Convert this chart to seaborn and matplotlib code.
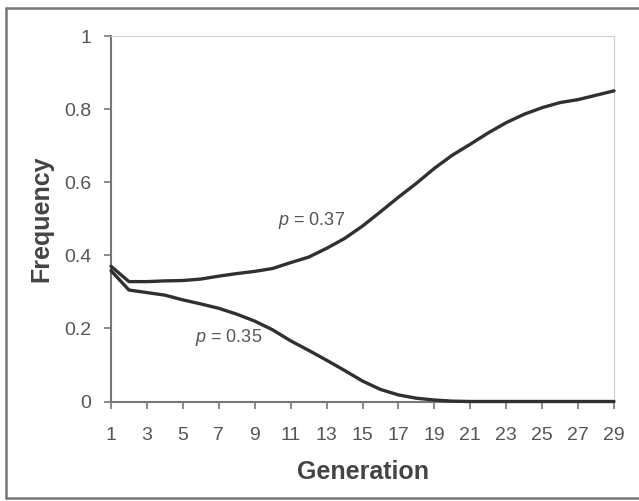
import matplotlib
matplotlib.use("Agg")
import matplotlib.pyplot as plt
import seaborn as sns
import pandas as pd
from matplotlib.lines import Line2D

# Set style
sns.set_style("white")
plt.rcParams['font.family'] = ['Liberation Sans', 'DejaVu Sans']
plt.rcParams['mathtext.fontset'] = 'custom'
plt.rcParams['mathtext.rm'] = 'Liberation Sans'
plt.rcParams['mathtext.it'] = 'Liberation Sans:italic'

# ============================================================
# DATA
# ============================================================
generations = list(range(1, 30))
freq_p037 = [0.370, 0.328, 0.328, 0.330, 0.331, 0.335, 0.343, 0.350, 0.356, 0.364,
             0.380, 0.395, 0.419, 0.446, 0.480, 0.519, 0.559, 0.597, 0.638, 0.674,
             0.704, 0.735, 0.763, 0.786, 0.804, 0.818, 0.826, 0.838, 0.850]
freq_p035 = [0.358, 0.305, 0.298, 0.291, 0.278, 0.267, 0.255, 0.239, 0.220, 0.196,
             0.166, 0.140, 0.113, 0.085, 0.056, 0.033, 0.018, 0.009, 0.004, 0.001,
             0.0, 0.0, 0.0, 0.0, 0.0, 0.0, 0.0, 0.0, 0.0]
labels = ['0.37', '0.35']
x_ticks = list(range(1, 30, 2))
y_ticks = [0, 0.2, 0.4, 0.6, 0.8, 1]
y_tick_labels = ['0', '0.2', '0.4', '0.6', '0.8', '1']

df = pd.DataFrame({
    'Generation': generations * 2,
    'Frequency': freq_p037 + freq_p035,
    'p': [labels[0]] * len(generations) + [labels[1]] * len(generations),
})

# ============================================================
# PLOT
# ============================================================
fig = plt.figure(figsize=(6.39, 5.01), dpi=100)
ax = fig.add_axes([0.1737, 0.1986, 0.7872, 0.7295])

sns.lineplot(data=df, x='Generation', y='Frequency', hue='p',
             palette=['#303030', '#303030'], linewidth=2.4, legend=False,
             ax=ax, clip_on=False, zorder=5)

ax.set_xlim(1, 29)
ax.set_ylim(0, 1)
ax.set_xticks(x_ticks)
ax.set_yticks(y_ticks)
ax.set_yticklabels(y_tick_labels)

ax.tick_params(axis='both', which='both', direction='out', length=5, width=1.2,
               color='#777777', labelcolor='#555555', labelsize=14,
               bottom=True, left=True)
ax.tick_params(axis='y', pad=9)
ax.tick_params(axis='x', pad=13)

for side in ['top', 'right']:
    ax.spines[side].set_color('#d0d0d0')
    ax.spines[side].set_linewidth(0.8)
for side in ['left', 'bottom']:
    ax.spines[side].set_color('#777777')
    ax.spines[side].set_linewidth(1.5)

ax.set_xlabel('Generation', fontsize=18, fontweight='bold', color='#444444')
ax.set_ylabel('Frequency', fontsize=18, fontweight='bold', color='#444444')
ax.xaxis.set_label_coords(0.5, -0.16)
ax.yaxis.set_label_coords(-0.115, 0.5)

# curve labels
ax.text(10.3, 0.494, '$p$ = ' + labels[0], fontsize=13, color='#555555',
        ha='left', va='center')
ax.text(5.68, 0.174, '$p$ = ' + labels[1], fontsize=13, color='#555555',
        ha='left', va='center')

# outer chart frame (left, top, bottom visible)
W, H = 639, 501
frame_kw = dict(transform=fig.transFigure, color='#777777', linewidth=1.8)
fig.add_artist(Line2D([6 / W, 6 / W], [1 - 8 / H, 1 - 498 / H], **frame_kw))
fig.add_artist(Line2D([6 / W, 1], [1 - 8 / H, 1 - 8 / H], **frame_kw))
fig.add_artist(Line2D([6 / W, 1], [1 - 498 / H, 1 - 498 / H], **frame_kw))

plt.savefig('out.png', dpi=100)
plt.close()
